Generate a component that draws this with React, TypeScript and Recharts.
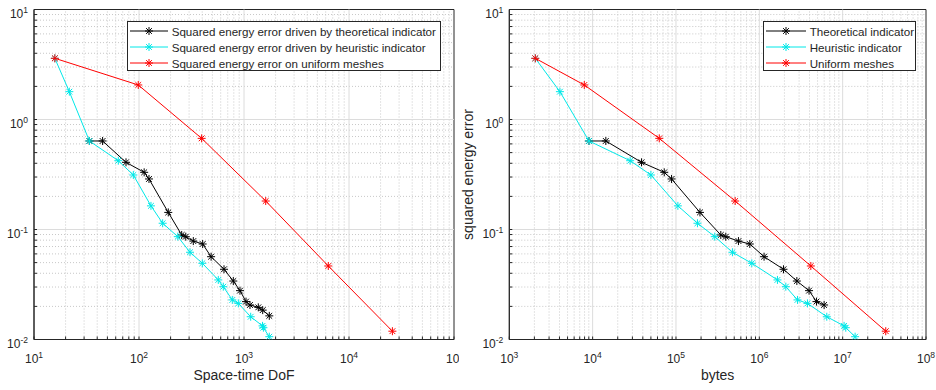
import React from 'react';
import { LineChart, Line, XAxis, YAxis, ReferenceLine, ReferenceArea, Legend, Label } from 'recharts';

// errors per refinement step (shared by both panels)
const theoreticalError = [0.638, 0.638, 0.408, 0.331, 0.288, 0.143, 0.0892, 0.086, 0.0785, 0.0738, 0.0566, 0.0435, 0.034, 0.0278, 0.0221, 0.0206, 0.0196, 0.0185, 0.0164];
const theoreticalDof = [33.7, 45, 75.2, 112, 124.5, 190, 255, 279, 329, 404, 486, 645, 791, 916, 1045, 1140, 1368, 1507, 1741];
const theoreticalBytes = [9040, 14400, 38600, 72300, 88500, 194000, 345000, 396000, 562000, 769000, 1.14e6, 1.95e6, 2.82e6, 3.95e6, 4.85e6, 5.99e6];

const heuristicError = [3.6, 1.79, 0.638, 0.422, 0.313, 0.164, 0.114, 0.0861, 0.0621, 0.0493, 0.0348, 0.0302, 0.0229, 0.0213, 0.0161, 0.0133, 0.0128, 0.0106];
const heuristicDof = [15.8, 21.7, 33.7, 63.5, 88.3, 130, 168, 234, 306, 401, 569, 635, 774, 883, 1158, 1500, 1530, 1741];
const heuristicBytes = [2050, 4050, 9040, 28200, 50000, 105400, 181000, 292000, 476000, 813000, 1.65e6, 2.08e6, 2.87e6, 3.78e6, 6.45e6, 1.04e7, 1.09e7, 1.41e7];

const uniformError = [3.6, 2.06, 0.674, 0.1815, 0.0466, 0.0119];
const uniformDof = [15.8, 98.4, 395, 1610, 6350, 25900];
const uniformBytes = [2050, 7940, 63000, 513000, 4.15e6, 3.29e7];

const yTicks = [0.01, 0.1, 1, 10];
const dofTicks = [10, 100, 1000, 10000, 100000];
const bytesTicks = [1e3, 1e4, 1e5, 1e6, 1e7, 1e8];

const leftLegend = ['Squared energy error driven by theoretical indicator', 'Squared energy error driven by heuristic indicator', 'Squared energy error on uniform meshes'];
const rightLegend = ['Theoretical indicator', 'Heuristic indicator', 'Uniform meshes'];

const colors = ['#000000', '#00e8e8', '#ff0000'];
const AXIS = '#262626';
const FONT = '"Liberation Sans", Arial, sans-serif';
const TICK_IN = -3;

const zip = (xs: number[], ys: number[]) => xs.map((x, i) => ({ x, y: ys[i] }));

// minor values between decade ticks
const minors = (ticks: number[]) => {
  const out: number[] = [];
  for (let i = 0; i < ticks.length - 1; i++) for (let k = 2; k < 10; k++) out.push(ticks[i] * k);
  return out;
};
const withMinors = (ticks: number[]) => [...ticks, ...minors(ticks)].sort((a, b) => a - b);
const isDecade = (v: number) => Math.abs(Math.log10(v) - Math.round(Math.log10(v))) < 1e-9;

const Star = ({ cx, cy, stroke }: any) => {
  if (cx == null || cy == null) return null;
  const r = 4;
  const d = r * 0.72;
  return (
    <path
      d={`M${cx - r},${cy}H${cx + r}M${cx},${cy - r}V${cy + r}M${cx - d},${cy - d}L${cx + d},${cy + d}M${cx - d},${cy + d}L${cx + d},${cy - d}`}
      stroke={stroke}
      strokeWidth={1}
      fill="none"
    />
  );
};

const XPowTick = ({ x, y, payload, cutLast, lastValue }: any) => {
  if (!isDecade(payload.value)) return null;
  const e = Math.round(Math.log10(payload.value));
  if (cutLast && payload.value === lastValue) {
    // superscript hidden behind the neighbouring panel in the original
    return (
      <text x={x - 8} y={y + 26} textAnchor="start" fill={AXIS} fontSize={12} fontFamily={FONT}>
        10
      </text>
    );
  }
  return (
    <text x={x} y={y + 26} textAnchor="middle" fill={AXIS} fontSize={12} fontFamily={FONT}>
      <tspan>10</tspan>
      <tspan dy={-5} fontSize={8.5}>{e}</tspan>
    </text>
  );
};

const YPowTick = ({ x, y, payload }: any) => {
  if (!isDecade(payload.value)) return null;
  const e = Math.round(Math.log10(payload.value));
  return (
    <text x={x - 9} y={y + 8} textAnchor="end" fill={AXIS} fontSize={12} fontFamily={FONT}>
      <tspan>10</tspan>
      <tspan dy={-5} fontSize={8.5}>{e}</tspan>
    </text>
  );
};

const LegendBox = ({ labels, width, lineLen, gap }: any) => (
  <div style={{ width, height: 50, boxSizing: 'border-box', border: `1px solid ${AXIS}`, background: '#fff', paddingTop: 1 }}>
    {labels.map((t: string, i: number) => (
      <div key={t} style={{ display: 'flex', alignItems: 'center', height: 16 }}>
        <svg width={lineLen + 4} height={16} style={{ flex: 'none' }}>
          <line x1={2} x2={lineLen + 2} y1={8} y2={8} stroke={colors[i]} strokeWidth={1} />
          <Star cx={lineLen / 2 + 2} cy={8} stroke={colors[i]} />
        </svg>
        <span style={{ marginLeft: gap, fontSize: 11.6, fontFamily: FONT, color: AXIS, whiteSpace: 'nowrap' }}>{t}</span>
      </div>
    ))}
  </div>
);

const Panel = ({ width, left, right, xTicks, series, legend, legendBox, xLabel, yLabel, yAxisWidth, cutLast }: any) => {
  const xMin = xTicks[0];
  const xMax = xTicks[xTicks.length - 1];
  const xAll = withMinors(xTicks);
  const yAll = withMinors(yTicks);
  const tickStyle = { stroke: AXIS };
  return (
    <LineChart width={width} height={390} margin={{ top: 9.5, right, bottom: 0, left }}>
      <XAxis
        dataKey="x"
        type="number"
        scale="log"
        domain={[xMin, xMax]}
        ticks={xAll}
        allowDataOverflow
        height={50.5}
        tickLine={tickStyle}
        tickSize={TICK_IN}
        tickMargin={0}
        axisLine={{ stroke: AXIS }}
        tick={<XPowTick cutLast={cutLast} lastValue={xMax} />}
        interval={0}
      >
        <Label
          content={({ viewBox }: any) => (
            <text x={viewBox.x + viewBox.width / 2} y={viewBox.y + 40.5} textAnchor="middle" fill={AXIS} fontSize={14} fontFamily={FONT}>
              {xLabel}
            </text>
          )}
        />
      </XAxis>
      <XAxis
        xAxisId="top"
        orientation="top"
        type="number"
        scale="log"
        domain={[xMin, xMax]}
        ticks={xAll}
        allowDataOverflow
        height={0}
        tick={false}
        tickLine={tickStyle}
        tickSize={TICK_IN}
        axisLine={{ stroke: AXIS }}
        interval={0}
      />
      <YAxis
        dataKey="y"
        type="number"
        scale="log"
        domain={[0.01, 10]}
        ticks={yAll}
        allowDataOverflow
        width={yAxisWidth}
        tickLine={tickStyle}
        tickSize={TICK_IN}
        tickMargin={0}
        axisLine={{ stroke: AXIS }}
        tick={<YPowTick />}
        interval={0}
      >
        {yLabel && (
          <Label
            content={({ viewBox }: any) => {
              const cx = viewBox.x - 11.5;
              const cy = viewBox.y + viewBox.height / 2;
              return (
                <text x={cx} y={cy} transform={`rotate(-90 ${cx} ${cy})`} textAnchor="middle" dominantBaseline="central" fill={AXIS} fontSize={14} fontFamily={FONT}>
                  {yLabel}
                </text>
              );
            }}
          />
        )}
      </YAxis>
      <YAxis
        yAxisId="right"
        orientation="right"
        type="number"
        scale="log"
        domain={[0.01, 10]}
        ticks={yAll}
        allowDataOverflow
        width={0}
        tick={false}
        tickLine={tickStyle}
        tickSize={TICK_IN}
        axisLine={{ stroke: AXIS }}
        interval={0}
      />
      {minors(xTicks).map((v) => (
        <ReferenceLine key={`mx${v}`} x={v} stroke="#c8c8c8" strokeDasharray="1 2" />
      ))}
      {minors(yTicks).map((v) => (
        <ReferenceLine key={`my${v}`} y={v} stroke="#c8c8c8" strokeDasharray="1 2" />
      ))}
      {xTicks.slice(1, -1).map((v: number) => (
        <ReferenceLine key={`Mx${v}`} x={v} stroke="#dcdcdc" />
      ))}
      {yTicks.slice(1, -1).map((v) => (
        <ReferenceLine key={`My${v}`} y={v} stroke="#dcdcdc" />
      ))}
      <ReferenceArea x1={xMin} x2={xMax} y1={0.01} y2={10} fill="none" stroke={AXIS} strokeWidth={1} ifOverflow="visible" />
      {series.map((s: any, i: number) => (
        <Line
          key={i}
          data={s}
          dataKey="y"
          stroke={colors[i]}
          strokeWidth={1}
          dot={(p: any) => <Star key={p.index} cx={p.cx} cy={p.cy} stroke={colors[i]} />}
          isAnimationActive={false}
          legendType="none"
        />
      ))}
      <Legend
        layout="horizontal"
        verticalAlign="middle"
        align="center"
        wrapperStyle={{ left: legendBox.left, top: 21, width: legendBox.width, height: 50 }}
        content={() => <LegendBox labels={legend} width={legendBox.width} lineLen={legendBox.lineLen} gap={legendBox.gap} />}
      />
    </LineChart>
  );
};

export default function App() {
  const leftSeries = [
    zip(theoreticalDof, theoreticalError),
    zip(heuristicDof, heuristicError),
    zip(uniformDof, uniformError),
  ];
  const rightSeries = [
    zip(theoreticalBytes, theoreticalError),
    zip(heuristicBytes, heuristicError),
    zip(uniformBytes, uniformError),
  ];
  return (
    <div style={{ position: 'absolute', left: 0, top: 0, width: 936, height: 390, background: '#fff', overflow: 'hidden' }}>
      <div style={{ position: 'absolute', left: 0, top: 0 }}>
        <Panel
          width={459}
          left={4}
          right={5}
          yAxisWidth={30}
          xTicks={dofTicks}
          series={leftSeries}
          legend={leftLegend}
          legendBox={{ left: 126.7, width: 314, lineLen: 38, gap: 2 }}
          xLabel="Space-time DoF"
          cutLast
        />
      </div>
      <div style={{ position: 'absolute', left: 459, top: 0, background: '#fff' }}>
        <Panel
          width={477}
          left={20}
          right={10}
          yAxisWidth={30.3}
          xTicks={bytesTicks}
          series={rightSeries}
          legend={rightLegend}
          legendBox={{ left: 303.7, width: 153.3, lineLen: 40, gap: 2 }}
          xLabel="bytes"
          yLabel="squared energy error"
        />
      </div>
    </div>
  );
}
